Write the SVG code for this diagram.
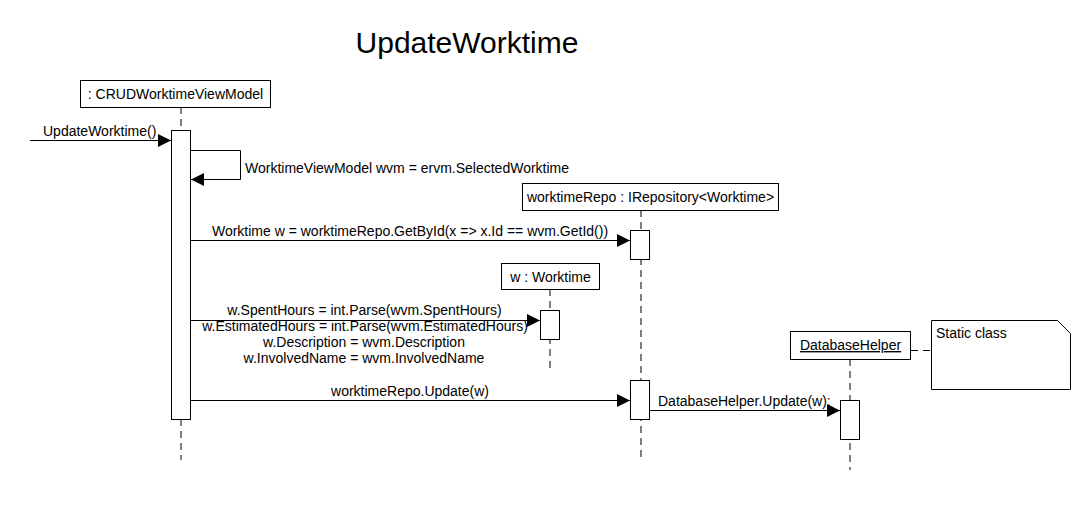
<svg xmlns="http://www.w3.org/2000/svg" width="1090" height="510" viewBox="0 0 1090 510">
<defs>
<style>
text{font-family:"Liberation Sans",Arial,sans-serif;font-size:14px;fill:#000}
.box{fill:#fff;stroke:#000;stroke-width:1}
.act{fill:#fff;stroke:#000;stroke-width:1}
.life{stroke:#000;stroke-width:1;stroke-dasharray:7 5;fill:none}
.msg{stroke:#000;stroke-width:1;fill:none}
.mid{text-anchor:middle}
</style>
<marker id="arr" viewBox="0 0 13 13" refX="13" refY="6.5" markerWidth="13" markerHeight="13" markerUnits="userSpaceOnUse" orient="auto">
<path d="M0,0 L13,6.5 L0,13 Z" fill="#000"/>
</marker>
</defs>
<rect width="1090" height="510" fill="#fff"/>
<text x="467" y="53" class="mid" style="font-size:30px">UpdateWorktime</text>

<g id="lifelines">
<line class="life" x1="181" y1="107" x2="181" y2="460"/>
<line class="life" x1="641" y1="210" x2="641" y2="460"/>
<line class="life" x1="550" y1="289" x2="550" y2="370"/>
<line class="life" x1="850" y1="359" x2="850" y2="470"/>
</g>

<g id="crud">
<rect class="box" x="80.5" y="80.5" width="190" height="27"/>
<text x="175.5" y="99" class="mid">: CRUDWorktimeViewModel</text>
<rect class="act" x="171.5" y="130.5" width="19" height="289"/>
</g>

<g id="repo">
<rect class="box" x="522.5" y="183.5" width="256" height="27"/>
<text x="650.5" y="202" class="mid">worktimeRepo : IRepository&lt;Worktime&gt;</text>
<rect class="act" x="630.5" y="230.5" width="19" height="29"/>
<rect class="act" x="630.5" y="380.5" width="19" height="39"/>
</g>

<g id="w">
<rect class="box" x="501.5" y="263.5" width="98" height="26"/>
<text x="550.5" y="281.5" class="mid">w : Worktime</text>
<rect class="act" x="540.5" y="310.5" width="19" height="29"/>
</g>

<g id="dbhelper">
<rect class="box" x="790.5" y="331.5" width="120" height="28"/>
<text x="850.5" y="350" class="mid" text-decoration="underline">DatabaseHelper</text>
<rect class="act" x="840.5" y="400.5" width="19" height="39"/>
</g>

<g id="note">
<path class="box" d="M931.5,320.5 L1057.5,320.5 L1070.5,333.5 L1070.5,389.5 L931.5,389.5 Z"/>
<text x="936" y="338">Static class</text>
</g>

<g id="connectors">
<line class="msg" x1="30" y1="140.5" x2="171" y2="140.5" marker-end="url(#arr)"/>
<text x="43" y="136">UpdateWorktime()</text>

<path class="msg" d="M190.5,150.5 H240.5 V179.5 H191" marker-end="url(#arr)"/>
<text x="245" y="173">WorktimeViewModel wvm = ervm.SelectedWorktime</text>

<line class="msg" x1="190.5" y1="240.5" x2="630" y2="240.5" marker-end="url(#arr)"/>
<text x="410" y="235.5" class="mid">Worktime w = worktimeRepo.GetById(x =&gt; x.Id == wvm.GetId())</text>

<line class="msg" x1="190.5" y1="320.5" x2="540" y2="320.5" marker-end="url(#arr)"/>
<text x="364.5" y="315" class="mid">w.SpentHours = int.Parse(wvm.SpentHours)</text>
<text x="365" y="331" class="mid">w.EstimatedHours = int.Parse(wvm.EstimatedHours)</text>
<text x="364" y="347" class="mid">w.Description = wvm.Description</text>
<text x="364" y="363" class="mid">w.InvolvedName = wvm.InvolvedName</text>

<line class="msg" x1="190.5" y1="400.5" x2="630" y2="400.5" marker-end="url(#arr)"/>
<text x="410" y="396" class="mid">worktimeRepo.Update(w)</text>

<line class="msg" x1="649.5" y1="410.5" x2="840" y2="410.5" marker-end="url(#arr)"/>
<text x="658" y="406">DatabaseHelper.Update(w);</text>

<line class="life" x1="911" y1="350.5" x2="931" y2="350.5"/>
</g>
</svg>
